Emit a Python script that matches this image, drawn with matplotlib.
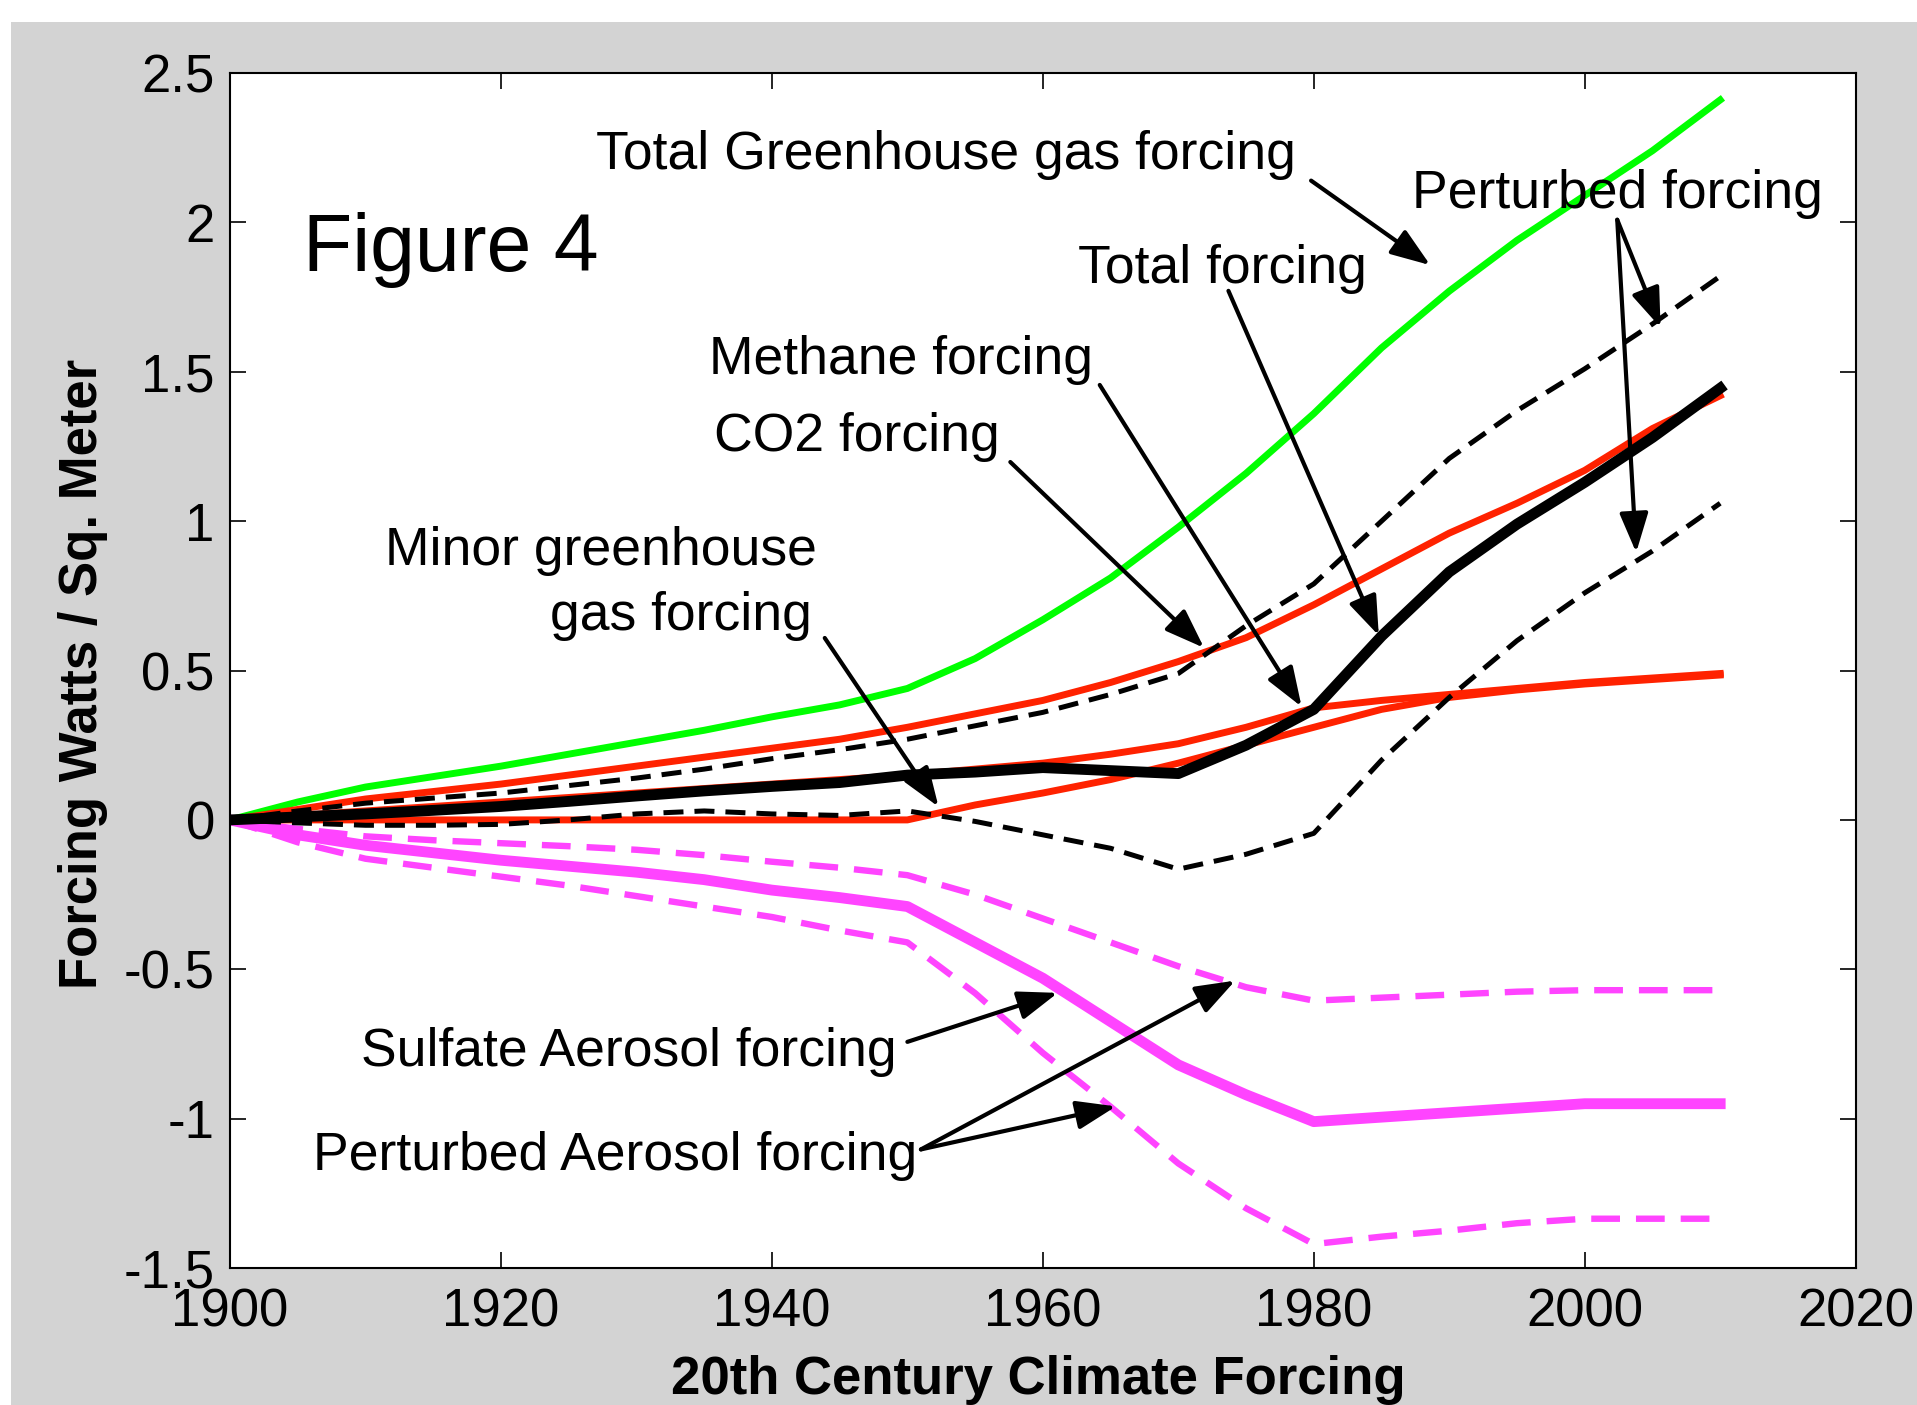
import numpy as np
import matplotlib.pyplot as plt
from matplotlib.patches import Rectangle

plt.rcParams['font.family'] = ['Liberation Sans', 'DejaVu Sans']

# forcing series, W/m^2, every 5 years
years = np.arange(1900, 2011, 5)

ghg_total = [0, 0.06, 0.11, 0.145, 0.18, 0.22, 0.26, 0.30, 0.345, 0.385, 0.44, 0.54,
             0.67, 0.81, 0.98, 1.16, 1.36, 1.58, 1.77, 1.94, 2.09, 2.24, 2.41]
co2 = [0, 0.035, 0.07, 0.095, 0.12, 0.15, 0.18, 0.21, 0.24, 0.27, 0.31, 0.355,
       0.40, 0.46, 0.53, 0.61, 0.72, 0.84, 0.96, 1.06, 1.17, 1.31, 1.42]
methane = [0, 0.015, 0.03, 0.045, 0.06, 0.075, 0.09, 0.105, 0.12, 0.135, 0.15, 0.17,
           0.19, 0.22, 0.255, 0.31, 0.375, 0.40, 0.42, 0.44, 0.46, 0.475, 0.49]
minor_ghg = [0, 0, 0, 0, 0, 0, 0, 0, 0, 0, 0, 0.05,
             0.09, 0.135, 0.19, 0.25, 0.31, 0.37, 0.41, 0.435, 0.455, 0.47, 0.485]
total = [0, 0.01, 0.02, 0.032, 0.045, 0.062, 0.08, 0.097, 0.112, 0.125, 0.15, 0.16,
         0.175, 0.165, 0.155, 0.25, 0.37, 0.615, 0.83, 0.99, 1.13, 1.28, 1.445]
total_hi = [0, 0.03, 0.056, 0.073, 0.09, 0.115, 0.14, 0.17, 0.205, 0.235, 0.27, 0.315,
            0.36, 0.42, 0.49, 0.65, 0.79, 1.0, 1.21, 1.37, 1.51, 1.66, 1.82]
total_lo = [0, -0.01, -0.018, -0.018, -0.015, 0.0, 0.02, 0.03, 0.02, 0.015, 0.03, -0.005,
            -0.05, -0.095, -0.165, -0.115, -0.045, 0.2, 0.41, 0.6, 0.76, 0.9, 1.06]
sulfate = [0, -0.05, -0.085, -0.11, -0.135, -0.155, -0.175, -0.2, -0.235, -0.26, -0.29, -0.41,
           -0.53, -0.675, -0.82, -0.92, -1.01, -0.995, -0.98, -0.965, -0.95, -0.95, -0.95]
aerosol_hi = [0, -0.03, -0.055, -0.068, -0.078, -0.088, -0.1, -0.118, -0.14, -0.16, -0.185, -0.25,
              -0.33, -0.41, -0.49, -0.56, -0.605, -0.595, -0.585, -0.575, -0.57, -0.57, -0.57]
aerosol_lo = [0, -0.075, -0.13, -0.16, -0.19, -0.22, -0.255, -0.29, -0.325, -0.37, -0.41, -0.58,
              -0.78, -0.96, -1.15, -1.3, -1.42, -1.395, -1.375, -1.35, -1.335, -1.335, -1.335]

GREEN = '#00ff00'
RED = '#ff2200'
MAG = '#ff44ff'

fig = plt.figure(figsize=(19.17, 14.05), dpi=100)
fig.patches.append(Rectangle((11 / 1917, 0), 1, 1 - 22 / 1405, transform=fig.transFigure,
                             facecolor='#d3d3d3', edgecolor='none', zorder=-10))
ax = fig.add_axes([0.120, 0.0975, 0.848, 0.8505])

# aerosols
ax.plot(years, aerosol_hi, color=MAG, lw=4.6, dashes=(4.5, 2.5))
ax.plot(years, aerosol_lo, color=MAG, lw=4.6, dashes=(4.5, 2.5))
ax.plot(years, sulfate, color=MAG, lw=7.8)

# greenhouse gases
ax.plot(years, ghg_total, color=GREEN, lw=5)
ax.plot(years, co2, color=RED, lw=5)
ax.plot(years, methane, color=RED, lw=5)
ax.plot(years, minor_ghg, color=RED, lw=5)

# total and perturbed total
ax.plot(years, total_hi, color='k', lw=3.6, dashes=(4, 2.2))
ax.plot(years, total_lo, color='k', lw=3.6, dashes=(4, 2.2))
ax.plot(years, total, color='k', lw=7.8)

ax.set_xlim(1900, 2020)
ax.set_ylim(-1.5, 2.5)
ax.set_xticks(np.arange(1900, 2021, 20))
ax.set_yticks(np.arange(-1.5, 2.51, 0.5))
ax.set_yticklabels(['-1.5', '-1', '-0.5', '0', '0.5', '1', '1.5', '2', '2.5'])
ax.tick_params(direction='in', length=11.5, width=1.2, top=True, right=True,
               labelsize=38)
ax.tick_params(axis='y', pad=11)
ax.tick_params(axis='x', pad=14)
for s in ax.spines.values():
    s.set_linewidth(1.5)

fig.text(0.5415, 0.0078, '20th Century Climate Forcing', fontsize=38,
         fontweight='bold', ha='center', va='baseline')
fig.text(0.0434, 0.5204, 'Forcing Watts / Sq. Meter', fontsize=38,
         fontweight='bold', rotation=90, ha='center', va='center')

ax.text(1905.4, 1.837, 'Figure 4', fontsize=58)

labels = [
    (1926.98, 2.180, 'Total Greenhouse gas forcing', 'left'),
    (1987.25, 2.049, 'Perturbed forcing', 'left'),
    (1962.62, 1.796, 'Total forcing', 'left'),
    (1935.37, 1.493, 'Methane forcing', 'left'),
    (1935.73, 1.234, 'CO2 forcing', 'left'),
    (1943.31, 0.854, 'Minor greenhouse', 'right'),
    (1942.95, 0.637, 'gas forcing', 'right'),
    (1949.17, -0.825, 'Sulfate Aerosol forcing', 'right'),
    (1950.71, -1.172, 'Perturbed Aerosol forcing', 'right'),
]
for x, y, s, ha in labels:
    ax.text(x, y, s, fontsize=38.5, ha=ha, va='baseline')

# arrows: (tail, head)
arrows = [
    ((1979.8, 2.14), (1988.6, 1.857)),
    ((1973.7, 1.771), (1984.8, 0.617)),
    ((1964.2, 1.456), (1979.1, 0.379)),
    ((1957.6, 1.198), (1971.9, 0.576)),
    ((1943.9, 0.609), (1952.3, 0.044)),
    ((2002.4, 2.009), (2005.6, 1.648)),
    ((2002.4, 2.009), (2003.8, 0.895)),
    ((1950.0, -0.743), (1961.1, -0.579)),
    ((1951.0, -1.103), (1974.2, -0.538)),
    ((1951.0, -1.103), (1965.4, -0.959)),
]
for tail, head in arrows:
    ax.annotate('', xy=head, xytext=tail,
                arrowprops=dict(arrowstyle='-|>,head_length=1.1,head_width=0.4',
                                mutation_scale=22, lw=3, color='k',
                                shrinkA=0, shrinkB=0))

fig.savefig('out.png', dpi=100, facecolor='white')
